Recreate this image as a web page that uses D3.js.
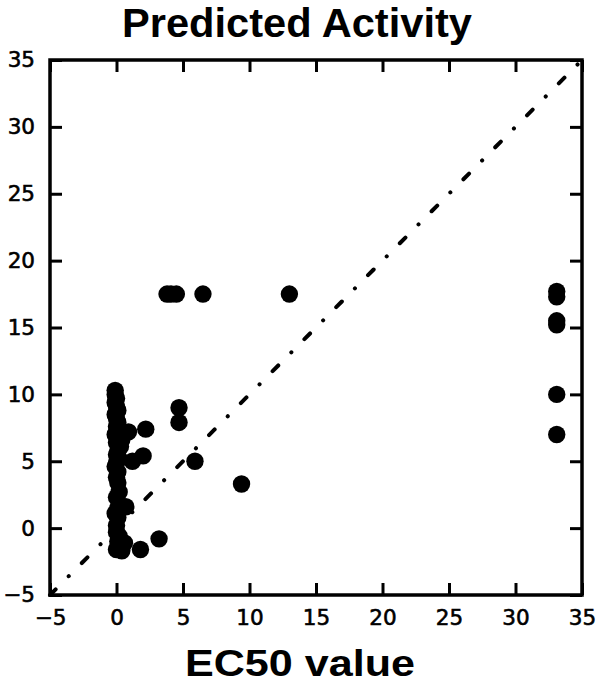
<!DOCTYPE html>
<html lang="en">
<head>
<meta charset="UTF-8">
<title>Predicted Activity</title>
<script src="https://d3js.org/d3.v7.min.js"></script>
<style>
    body { margin: 0; background: #ffffff; }
    svg { display: block; }
    .tick text { font-family: "DejaVu Sans", sans-serif; font-size: 21.5px; fill: #000; stroke: #000; stroke-width: 0.6px; }
    .tick line { stroke: #000; stroke-width: 3; }
    .title { font-family: "Liberation Sans", Arial, sans-serif; font-weight: bold; fill: #000; }
</style>
</head>
<body>
<svg id="chart" width="599" height="688"></svg>
<script>
    // EC50 value (x) vs predicted activity (y)
    const ec50 = [
        -0.1, -0.1, 0.0, -0.1, 0.0, 0.1, -0.1, 0.0, 0.1, 0.0, 0.2, -0.1, 0.1, 0.0, 0.3, 0.1, 0.0, 0.2, 0.0, -0.1,
        0.1, 0.0, 0.1, 0.2, 0.0, 0.1, -0.1, 0.1, 0.0, 0.0, 0.2, 0.1, 0.3, 0.0, 0.4,
        0.9, 1.2, 0.7, 0.6, 0.4, 2.2, 2.0, 4.7, 4.7, 5.9, 9.4, 3.2, 1.8,
        3.8, 4.1, 4.5, 6.5, 13.0,
        33.1, 33.1, 33.1, 33.1, 33.1, 33.1
    ];
    const predicted = [
        10.3, 10.0, 9.7, 9.4, 9.1, 8.8, 8.5, 8.2, 7.9, 7.6, 7.3, 7.0, 6.7, 6.4, 6.1, 5.8, 5.5, 5.2, 4.9, 4.6,
        4.2, 3.8, 3.4, 2.7, 2.3, 1.5, 1.1, 0.8, 0.2, -0.3, -0.6, -1.0, -1.3, -1.6, -1.7,
        7.2, 5.0, 1.6, -1.1, 6.6, 7.4, 5.4, 9.0, 7.9, 5.0, 3.3, -0.8, -1.6,
        17.5, 17.5, 17.5, 17.5, 17.5,
        17.7, 17.3, 15.5, 15.2, 10.0, 7.0
    ];
    const tickValues = [-5, 0, 5, 10, 15, 20, 25, 30, 35];
    const diagonal = [-5, 35];

    const svg = d3.select("#chart");
    const margin = {top: 60, right: 17, bottom: 93, left: 50};
    const width = 599 - margin.left - margin.right;
    const height = 688 - margin.top - margin.bottom;

    const x = d3.scaleLinear().domain([-5, 35]).range([0, width]);
    const y = d3.scaleLinear().domain([-5, 35]).range([height, 0]);

    const g = svg.append("g").attr("transform", `translate(${margin.left},${margin.top})`);

    // axes, ticks pointing inwards on all four sides
    g.append("g").attr("transform", `translate(0,${height})`)
        .call(d3.axisBottom(x).tickValues(tickValues).tickSize(-12).tickPadding(15));
    g.append("g")
        .call(d3.axisLeft(y).tickValues(tickValues).tickSize(-12).tickPadding(15));
    g.append("g")
        .call(d3.axisTop(x).tickValues(tickValues).tickSize(-12).tickFormat(""));
    g.append("g").attr("transform", `translate(${width},0)`)
        .call(d3.axisRight(y).tickValues(tickValues).tickSize(-12).tickFormat(""));
    g.selectAll(".domain").remove();

    // diagonal reference line
    g.append("path")
        .datum(diagonal)
        .attr("fill", "none")
        .attr("stroke", "#000")
        .attr("stroke-width", 4)
        .attr("stroke-linecap", "round")
        .attr("stroke-dasharray", "8,18.5,0.1,18.5")
        .attr("d", d3.line().x(d => x(d)).y(d => y(d)));

    // points
    g.append("g").selectAll("circle")
        .data(ec50)
        .join("circle")
        .attr("cx", d => x(d))
        .attr("cy", (d, i) => y(predicted[i]))
        .attr("r", 8.7)
        .attr("fill", "#000");

    // frame
    g.append("rect")
        .attr("width", width)
        .attr("height", height)
        .attr("fill", "none")
        .attr("stroke", "#000")
        .attr("stroke-width", 3.5);

    svg.append("text").attr("class", "title")
        .attr("x", 297).attr("y", 37)
        .attr("text-anchor", "middle")
        .attr("font-size", 40)
        .attr("textLength", 350).attr("lengthAdjust", "spacingAndGlyphs")
        .text("Predicted Activity");

    svg.append("text").attr("class", "title")
        .attr("x", 300).attr("y", 676)
        .attr("text-anchor", "middle")
        .attr("font-size", 37)
        .attr("textLength", 230).attr("lengthAdjust", "spacingAndGlyphs")
        .text("EC50 value");
</script>
</body>
</html>
